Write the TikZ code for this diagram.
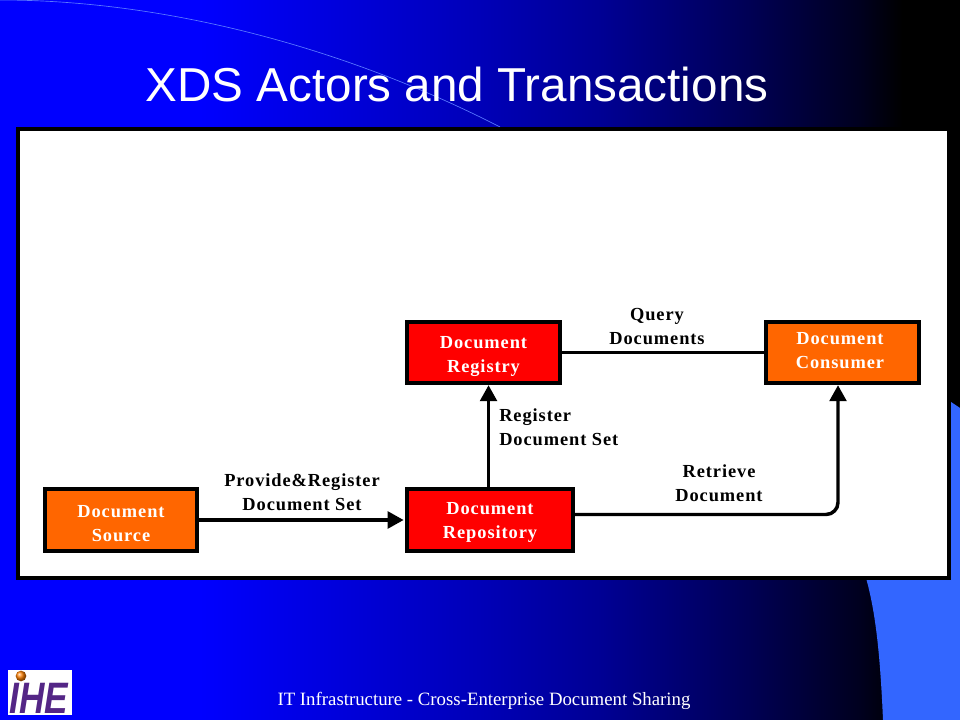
\documentclass[tikz,border=0pt]{standalone}
\usepackage{fontspec}
\setmainfont{Liberation Serif}
\newfontfamily\titlefont{Liberation Sans}
\newfontfamily\logofont[FakeStretch=0.8]{Liberation Sans}
\newfontfamily\spacedfont[LetterSpace=5]{Liberation Serif}
\usepackage{tikz}
\usetikzlibrary{arrows.meta,positioning,calc}
\definecolor{wingblue}{RGB}{51,102,255}
\definecolor{arcblue}{RGB}{90,120,255}
\definecolor{actororange}{RGB}{255,102,0}
\definecolor{actorred}{RGB}{255,0,0}
\definecolor{logopurple}{RGB}{84,38,134}
\pgfdeclarehorizontalshading{slidefade}{100bp}{
    rgb(0bp)=(0,0,1); rgb(35.4bp)=(0,0,1); rgb(40.6bp)=(0,0,0.9); rgb(50bp)=(0,0,0.72);
    rgb(56.25bp)=(0,0,0.58); rgb(64bp)=(0,0,0.33); rgb(69.8bp)=(0,0,0.12); rgb(72bp)=(0,0,0); rgb(100bp)=(0,0,0)}
% two lines of box text, moved a little up or down (and left, with the option)
\newcommand{\actortext}[4][0pt]{\raisebox{#2}[0pt][0pt]{\begin{tabular}{@{}c@{\hspace{#1}}}#3\\#4\end{tabular}}}

\begin{document}
\begin{tikzpicture}[
    x=0.75pt, y=-0.75pt,
    actor/.style={rectangle, draw=black, line width=3pt, fill=#1, minimum height=46pt, align=center, text=white, font=\spacedfont\bfseries\fontsize{13.8}{18}\selectfont},
    flow/.style={-{Triangle[length=12pt,width=12.5pt]}, line width=2.6pt},
    plain/.style={line width=2.6pt},
    flowlabel/.style={align=center, inner sep=0pt, font=\spacedfont\bfseries\fontsize{13.8}{18}\selectfont}
]

% Slide background
\shade[shading=slidefade] (0,0) rectangle (960,720);
\useasboundingbox (0,0) rectangle (960,720);
\fill[wingblue] (951,402) -- (960,408) -- (960,720) -- (883,720) .. controls (880,650) and (875,610) .. (866,578) -- cycle;
\draw[arcblue, line width=0.5pt] (0,0) .. controls (170,0) and (350,50) .. (500,127);

% Title and panel
\node[text=white, font=\titlefont\fontsize{35.7}{36}\selectfont] (title) at (457,84) {XDS Actors and Transactions};
\node[rectangle, draw=black, line width=3pt, fill=white, minimum width=698.25pt, minimum height=336.75pt] (panel) at (483.5,353.5) {};

% Actors
\node[actor=actororange, minimum width=114pt] (source) at (121,520) {\actortext{-7pt}{Document}{Source}};
\node[actor=actorred, minimum width=124.5pt] (repository) at (490,520) {\actortext{-4.5pt}{Document}{Repository}};
\node[actor=actorred, minimum width=115pt] (registry) at (483.5,352.5) {\actortext{-6.25pt}{Document}{Registry}};
\node[actor=actororange, minimum width=115pt] (consumer) at (842.5,352.5) {\actortext[3.8pt]{-3.25pt}{Document}{Consumer}};

% Transactions
\coordinate (turn) at (838,514.5);
\draw[flow, shorten >=1pt] (source) -- (repository);
\draw[flow] ([xshift=-1.1pt]repository.north) -- ([xshift=-1.1pt]repository.north |- registry.south);
\draw[plain] (registry) -- (consumer);
\draw[flow, rounded corners=9pt] (turn -| repository.east) -- (turn) -- (turn |- consumer.south);

% Labels
\node[flowlabel] (provide) at (302,492) {Provide\&Register\\Document Set};
\node[flowlabel] (query) at (657,327) {Query\\Documents};
\node[flowlabel, align=left, anchor=west] (register) at (499,427) {Register\\Document Set};
\node[flowlabel] (retrieve) at (719,483) {Retrieve\\Document};

% Footer
\node[text=white, font=\fontsize{14.1}{18}\selectfont] (footer) at (484,701) {IT Infrastructure - Cross-Enterprise Document Sharing};
\node[rectangle, fill=white, minimum width=48pt, minimum height=34pt, inner sep=0pt] (logo) at (40,692.5) {};
\node[text=logopurple, inner sep=0pt, font=\logofont\bfseries\itshape\fontsize{33}{33}\selectfont] (logotext) at (39,698) {IHE};
\node[circle, ball color=orange, minimum size=8pt, inner sep=0pt] (logoball) at (21,676) {};

\end{tikzpicture}
\end{document}
